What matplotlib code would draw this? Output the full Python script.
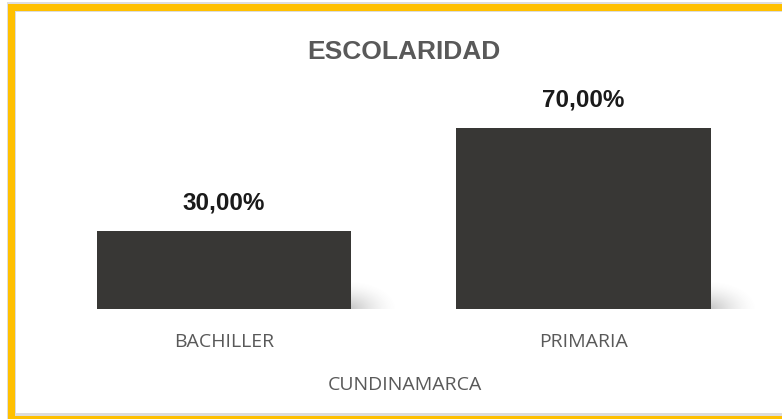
import matplotlib
matplotlib.use("Agg")
import matplotlib.pyplot as plt
import numpy as np
from matplotlib.patches import Rectangle

# datos
categorias = ["BACHILLER", "PRIMARIA"]
porcentajes = [30.0, 70.0]
titulo = "ESCOLARIDAD"
eje_x = "CUNDINAMARCA"

W, H = 782, 419
DPI = 100
GRIS_TEXTO = "#595959"
BARRA = "#383735"
ORO = "#FFC000"

fig = plt.figure(figsize=(W / DPI, H / DPI), dpi=DPI)
fig.patch.set_facecolor("white")


def caja(x0, y0, x1, y1, color, z):
    # rectangulo en pixeles medidos desde arriba a la izquierda
    fig.patches.append(Rectangle((x0 / W, 1 - y1 / H), (x1 - x0) / W, (y1 - y0) / H,
                                 transform=fig.transFigure, facecolor=color,
                                 edgecolor="none", zorder=z))


# marco dorado
caja(7, 2, 800, 440, "#dedede", 0)
caja(8, 4, 800, 440, ORO, 1)
caja(15, 11, 800, 416, "#dcdcdc", 2)
caja(16, 12, 800, 413, "white", 3)

ax = fig.add_axes([44.25 / W, (H - 309) / H, 719 / W, 258.6 / H])
ax.set_facecolor("none")
ax.set_zorder(5)

x = np.arange(len(categorias))
ancho = 0.7066
barras = ax.bar(x, porcentajes, width=ancho, color=BARRA, zorder=3)

# sombra difusa a la derecha de cada barra
ny, nx = 60, 80
gx = np.linspace(0, 1, nx)
gy = np.linspace(0, 1, ny)
XX, YY = np.meshgrid(gx, gy)
dist = np.sqrt(XX ** 2 + YY ** 2)
alpha = np.clip(1 - dist, 0, 1) ** 1.6 * 0.45
sombra = np.zeros((ny, nx, 4))
sombra[..., :3] = 0.45
sombra[..., 3] = alpha
for b in barras:
    x0 = b.get_x() + b.get_width()
    ax.imshow(sombra, extent=(x0 - 0.01, x0 + 0.13, 0, 11), origin="lower",
              aspect="auto", interpolation="bilinear", zorder=2)

for b, v in zip(barras, porcentajes):
    ax.annotate(f"{v:.2f}%".replace(".", ","),
                (b.get_x() + b.get_width() / 2, v),
                xytext=(0, 12), textcoords="offset points",
                ha="center", va="bottom", fontsize=17.5, fontweight="bold",
                color="#1a1a1a", family="Liberation Sans")

ax.set_xlim(-0.5, 1.5)
ax.set_ylim(0, 100)
ax.set_xticks(x)
ax.set_xticklabels(categorias, fontsize=14, color=GRIS_TEXTO, family="Open Sans")
ax.tick_params(axis="x", length=0, pad=17)
ax.set_yticks([])
for s in ax.spines.values():
    s.set_visible(False)

fig.text(405 / W, 1 - 385 / H, eje_x, ha="center", va="center",
         fontsize=14, color=GRIS_TEXTO, family="Open Sans", zorder=6)
fig.text(404 / W, 1 - 52 / H, titulo, ha="center", va="center",
         fontsize=19, fontweight="bold", color=GRIS_TEXTO,
         family="Liberation Sans", zorder=6)

fig.savefig("out.png", dpi=DPI)
